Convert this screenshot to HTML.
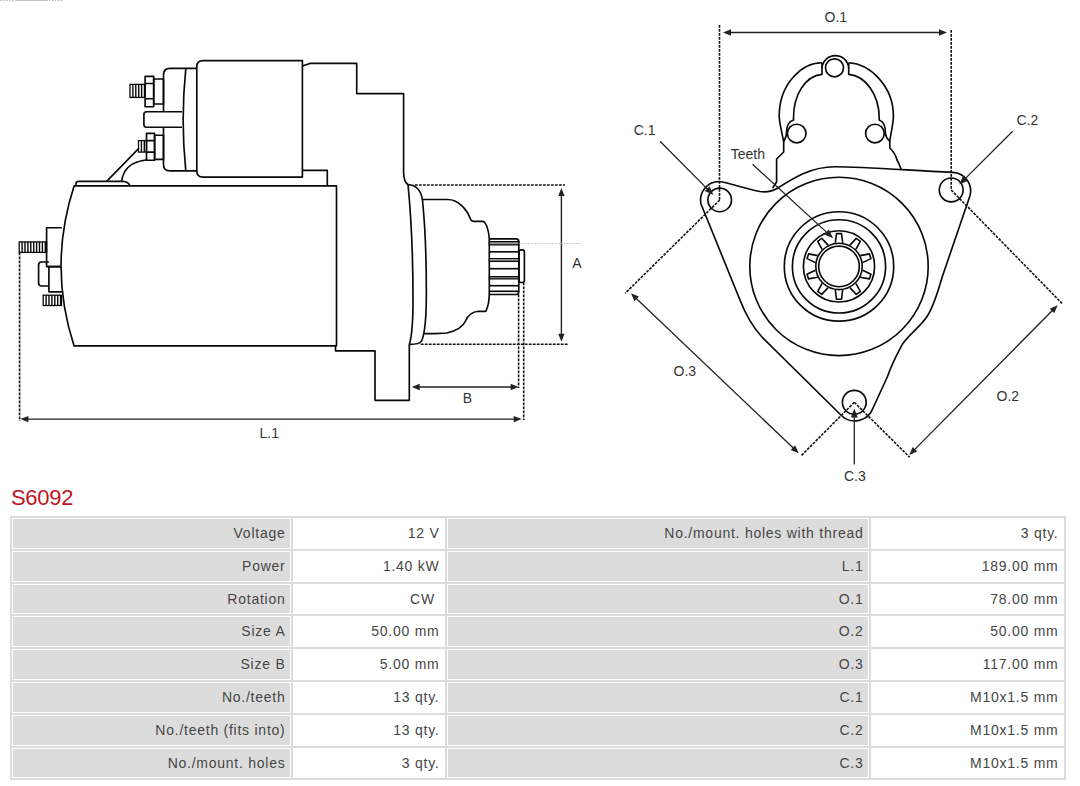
<!DOCTYPE html>
<html><head><meta charset="utf-8"><style>
html,body{margin:0;padding:0;background:#fff;width:1080px;height:786px;overflow:hidden;position:relative}
svg{position:absolute;left:0;top:0}
.lab text{font-family:"Liberation Sans",sans-serif;font-size:14px;fill:#333}
.c{position:absolute;box-sizing:content-box;border:1px solid #fff;font-family:"Liberation Sans",sans-serif;font-size:14px;color:#464646;text-align:right;}
.c span{position:absolute;right:4.5px;top:6px;white-space:nowrap;letter-spacing:0.75px}
.title{position:absolute;left:11px;top:485px;font-family:"Liberation Sans",sans-serif;font-size:22px;color:#c0151f;letter-spacing:-0.3px}
</style></head><body>
<svg width="1080" height="500" viewBox="0 0 1080 500">
<g fill="none" stroke="#080808" stroke-width="1.65" stroke-linejoin="round" stroke-linecap="butt">
<path d="M203 60.6 H302.4 V177.1 H203 Q196.8 177.1 196.8 171 V66.6 Q196.8 60.6 203 60.6 Z"/>
<path d="M196.8 68.4 H170 Q163.5 68.4 163.5 75 V111.7 M163.5 127.2 V164.5 Q163.5 170.9 170 170.9 H196.8"/>
<path d="M185.8 68.6 Q180.5 120 185.8 170.8"/>
<rect x="153.7" y="79" width="9.8" height="25"/>
<rect x="145.1" y="76.4" width="8.6" height="30.3"/>
<path d="M145.1 83.5 H153.7 M145.1 98.7 H153.7"/>
<path d="M182 111.7 H146.5 Q143.9 111.7 143.9 114.5 V124.5 Q143.9 127.2 146.5 127.2 H182"/>
<rect x="154.6" y="135.2" width="8.9" height="24.1"/>
<rect x="146.5" y="133.4" width="8.1" height="26.8"/>
<path d="M146.5 140.6 H154.6 M146.5 152.1 H154.6"/>
<path d="M138.3 148.8 L106.4 181.6"/>
<path d="M147 159.8 Q130 162 124.5 172 Q122 177 121.5 182"/>
<path d="M76 185.8 V183.5 Q76 181.4 79 181.4 H123 Q128 181.6 130 185.8"/>
<path d="M74.1 185.9 H336.5 V345.9 H74.1 Q48 266 74.1 185.9 Z"/>
<path d="M302.4 170.3 H327.3 V186"/>
<path d="M302.4 66 L310.3 63.4 H356.7 V93.6 H403.6 V172 Q403.8 182.5 408 184.5 C411 215 413 260 413 300 C413 322 412 336 409.3 344.5 V400.3 H375 V350.8 H335.5 V345.9"/>
<path d="M408 184.5 C416 185 421 190 422.5 200 C425 225 426.5 270 426.3 300 C426 322 424 336 421.5 341 C420 344 416 344.4 409.5 344.4"/>
<path d="M422.3 199.5 H447.6 C458 199.5 467 209 470.9 220 C471.5 221 472.5 221.3 474 221.3 H482.7 C486 222 488.8 230 489.3 239 V293 C489.3 300 488.5 306 485.8 311.3 H478.5 C472 311.8 468 315 465.5 321 C463 327 455 331 447 333 L435 333.6 H424"/>
<path d="M489.3 238.9 H516 Q518.8 238.9 518.8 241.7 V291.7 Q518.8 294.5 516 294.5 H489.3"/>
<rect x="489.3" y="241.6" width="29.5" height="3.3000000000000114" fill="#999" stroke="#080808" stroke-width="1.2"/>
<rect x="489.3" y="258.5" width="29.5" height="2.8000000000000114" fill="#999" stroke="#080808" stroke-width="1.2"/>
<rect x="489.3" y="276.6" width="29.5" height="2.2999999999999545" fill="#999" stroke="#080808" stroke-width="1.2"/>
<path d="M489.3 251.8 H518.8"/>
<path d="M489.3 268.7 H518.8"/>
<path d="M489.3 285.7 H518.8"/>
<path d="M489.3 291.3 H518.8"/>
<rect x="519" y="249.8" width="5.4" height="32.7" rx="2"/>
</g>
<rect x="130" y="84.4" width="15.099999999999994" height="13.0" fill="none" stroke="#080808" stroke-width="1.3"/><path d="M132.90 84.4 V97.4 M135.80 84.4 V97.4 M138.70 84.4 V97.4 M141.60 84.4 V97.4 M144.50 84.4 V97.4 " stroke="#080808" stroke-width="1.4"/>
<rect x="138.5" y="140.6" width="8.0" height="11.5" fill="none" stroke="#080808" stroke-width="1.3"/><path d="M141.40 140.6 V152.1 M144.30 140.6 V152.1 " stroke="#080808" stroke-width="1.4"/>
<rect x="19.2" y="241.9" width="27.400000000000002" height="10.5" fill="none" stroke="#080808" stroke-width="1.3"/><path d="M22.10 241.9 V252.4 M25.00 241.9 V252.4 M27.90 241.9 V252.4 M30.80 241.9 V252.4 M33.70 241.9 V252.4 M36.60 241.9 V252.4 M39.50 241.9 V252.4 M42.40 241.9 V252.4 M45.30 241.9 V252.4 " stroke="#080808" stroke-width="1.4"/>
<rect x="43.2" y="295.2" width="18.299999999999997" height="10.300000000000011" fill="none" stroke="#080808" stroke-width="1.3"/><path d="M46.10 295.2 V305.5 M49.00 295.2 V305.5 M51.90 295.2 V305.5 M54.80 295.2 V305.5 M57.70 295.2 V305.5 M60.60 295.2 V305.5 " stroke="#080808" stroke-width="1.4"/>
<g fill="none" stroke="#080808" stroke-width="1.65" stroke-linejoin="round">
<path d="M61.8 227.7 H46.6 V266.6 H61"/>
<path d="M61 266.6 H48.9 V291.8 H62.5"/>
<path d="M48.9 262 H41.5 Q38.6 262 38.6 265 V283 Q38.6 286 41.5 286 H48.9"/>
</g>
<path d="M415 185 L565 185" stroke="#111" stroke-width="1.6" fill="none" stroke-dasharray="2.8 1.2"/>
<path d="M420.8 344.3 L568 344.3" stroke="#111" stroke-width="1.6" fill="none" stroke-dasharray="2.8 1.2"/>
<path d="M561.4 192 L561.4 338" stroke="#222" stroke-width="1.4" fill="none"/>
<path d="M561.40 188.00 L558.20 196.00 L564.60 196.00 Z" fill="#222" stroke="none"/>
<path d="M561.40 341.70 L564.60 333.70 L558.20 333.70 Z" fill="#222" stroke="none"/>
<path d="M519 243.4 H582" stroke="#aaa" stroke-width="0.8" stroke-dasharray="1.5 1.5"/>
<path d="M518.6 294.5 L518.6 388" stroke="#111" stroke-width="1.6" fill="none" stroke-dasharray="2.8 1.2"/>
<path d="M523.7 282.5 L523.7 420" stroke="#111" stroke-width="1.6" fill="none" stroke-dasharray="2.8 1.2"/>
<path d="M416 387 L515 387" stroke="#222" stroke-width="1.4" fill="none"/>
<path d="M411.70 387.00 L419.70 390.20 L419.70 383.80 Z" fill="#222" stroke="none"/>
<path d="M518.60 387.00 L510.60 383.80 L510.60 390.20 Z" fill="#222" stroke="none"/>
<path d="M19.6 252.4 L19.6 421" stroke="#111" stroke-width="1.6" fill="none" stroke-dasharray="2.8 1.2"/>
<path d="M25 419.1 L517 419.1" stroke="#222" stroke-width="1.4" fill="none"/>
<path d="M20.40 419.10 L28.40 422.30 L28.40 415.90 Z" fill="#222" stroke="none"/>
<path d="M521.70 419.10 L513.70 415.90 L513.70 422.30 Z" fill="#222" stroke="none"/>
<g fill="none" stroke="#080808" stroke-width="1.65" stroke-linejoin="round">
<path d="M772.6 188 L776.6 182 V159 L783.7 152 V142 C781 128 779.2 122 779.2 116 C779.2 84 802 62.5 822 62.8"/>
<path d="M848.7 62.8 C870 64 893.4 86 893.4 116 C893.4 124 891 132 889.8 141 V148 C894 152 896 156 897 160 C899 163 900 166 901 169"/>
<path d="M822 62.8 V67.8 A13.4 13.4 0 0 1 848.7 67.8 V62.8"/>
<path d="M822 67 V74.4 C805 76 793.5 95 793.5 118 V120 C790 121 786.4 124 786.4 133.5 C786.4 138 784 140 783.7 142"/>
<path d="M848.7 67 V74.4 C866 76 879.2 95 879.2 118 V120 C882.5 121 885.5 125 885.5 133.5 C885.5 138 889 140 889.8 141"/>
<circle cx="834.5" cy="67.8" r="9"/>
<circle cx="796.7" cy="133.5" r="9.3"/>
<circle cx="874.9" cy="133.5" r="9.3"/>
<path d="M719 181.5 C731 183 745 189 760 191.5 C767 192.5 773 191 777.8 188 C795 177 812 166.7 834.8 166.7 C860 166.7 890 169 952.8 172.4 A18.6 18.6 0 0 1 969.9 196 L942.1 277.3 C937 295 933 307 927.7 315.5 C920 328 906 336 900.7 347.3 C895 358 889 372 887.3 377 L873 408 A19.3 19.3 0 0 1 841.4 415.5 L762 337 C752 326 745 313 740 300 L701 204 A18.6 18.6 0 0 1 719 181.5 Z"/>
<circle cx="719.7" cy="199.9" r="11.8"/>
<circle cx="951.2" cy="189.9" r="11.9"/>
<circle cx="854.3" cy="402.3" r="11.9"/>
<circle cx="839" cy="266.4" r="89.2"/>
<circle cx="839" cy="266.4" r="54.7"/>
<circle cx="839" cy="266.4" r="46.6"/>
<circle cx="839" cy="266.4" r="35.6"/>
</g>
<g fill="none" stroke="#080808" stroke-width="1.6">
<circle cx="839" cy="266.4" r="23.2"/>
<circle cx="839" cy="266.4" r="20.3"/>
<path d="M835.30 242.80 L836.50 233.60 L841.50 233.60 L842.70 242.80" stroke-linejoin="round"/>
<path d="M849.88 245.13 L856.26 238.39 L860.30 241.33 L855.87 249.48" stroke-linejoin="round"/>
<path d="M860.30 255.59 L869.42 253.89 L870.97 258.64 L862.59 262.63" stroke-linejoin="round"/>
<path d="M862.59 270.17 L870.97 274.16 L869.42 278.91 L860.30 277.21" stroke-linejoin="round"/>
<path d="M855.87 283.32 L860.30 291.47 L856.26 294.41 L849.88 287.67" stroke-linejoin="round"/>
<path d="M842.70 290.00 L841.50 299.20 L836.50 299.20 L835.30 290.00" stroke-linejoin="round"/>
<path d="M828.12 287.67 L821.74 294.41 L817.70 291.47 L822.13 283.32" stroke-linejoin="round"/>
<path d="M817.70 277.21 L808.58 278.91 L807.03 274.16 L815.41 270.17" stroke-linejoin="round"/>
<path d="M815.41 262.63 L807.03 258.64 L808.58 253.89 L817.70 255.59" stroke-linejoin="round"/>
<path d="M822.13 249.48 L817.70 241.33 L821.74 238.39 L828.12 245.13" stroke-linejoin="round"/>
</g>
<path d="M719.5 25 L719.5 200" stroke="#111" stroke-width="1.6" fill="none" stroke-dasharray="2.8 1.2"/>
<path d="M951.2 30 L951.2 190" stroke="#111" stroke-width="1.6" fill="none" stroke-dasharray="2.8 1.2"/>
<path d="M727 32.5 L943 32.5" stroke="#222" stroke-width="1.4" fill="none"/>
<path d="M723.00 32.50 L731.00 35.70 L731.00 29.30 Z" fill="#222" stroke="none"/>
<path d="M947.00 32.50 L939.00 29.30 L939.00 35.70 Z" fill="#222" stroke="none"/>
<path d="M719.7 200 L625.2 293.3" stroke="#111" stroke-width="1.6" fill="none" stroke-dasharray="2.8 1.2"/>
<path d="M951.2 190 L1062 303.4" stroke="#111" stroke-width="1.6" fill="none" stroke-dasharray="2.8 1.2"/>
<path d="M854.3 402.3 L800.7 456.2" stroke="#111" stroke-width="1.6" fill="none" stroke-dasharray="2.8 1.2"/>
<path d="M854.3 402.3 L909.7 457.3" stroke="#111" stroke-width="1.6" fill="none" stroke-dasharray="2.8 1.2"/>
<path d="M635.2436577752388 297.4391589884428 L794.3563422247612 449.0608410115572" stroke="#222" stroke-width="1.3" fill="none"/>
<path d="M630.90 293.30 L634.48 301.14 L638.90 296.50 Z" fill="#222" stroke="none"/>
<path d="M798.70 453.20 L795.12 445.36 L790.70 450.00 Z" fill="#222" stroke="none"/>
<path d="M913.5240860897688 450.63888550890476 L1053.375913910231 309.5611144910952" stroke="#222" stroke-width="1.3" fill="none"/>
<path d="M909.30 454.90 L917.20 451.47 L912.66 446.97 Z" fill="#222" stroke="none"/>
<path d="M1057.60 305.30 L1049.70 308.73 L1054.24 313.23 Z" fill="#222" stroke="none"/>
<path d="M660 141.2 L709.2731898969201 190.84158757839242" stroke="#222" stroke-width="1.3" fill="none"/>
<path d="M713.50 195.10 L709.57 186.32 L704.75 191.11 Z" fill="#222" stroke="none"/>
<path d="M1012.7 131.2 L963.4466076229801 180.36132996136197" stroke="#222" stroke-width="1.3" fill="none"/>
<path d="M959.20 184.60 L967.97 180.65 L963.17 175.84 Z" fill="#222" stroke="none"/>
<path d="M854.3 464.4 L854.3 414.4" stroke="#222" stroke-width="1.3" fill="none"/>
<path d="M854.30 408.40 L850.90 417.40 L857.70 417.40 Z" fill="#222" stroke="none"/>
<path d="M752.6 164.3 L828.6800392105351 234.14242108892597" stroke="#222" stroke-width="1.3" fill="none"/>
<path d="M833.10 238.20 L828.77 229.61 L824.17 234.62 Z" fill="#222" stroke="none"/>
<path d="M0 0.5 H15.5" stroke="#bbb" stroke-width="1" stroke-dasharray="1.5 1.5"/>
<path d="M16 0.5 H48" stroke="#c8c4c0" stroke-width="1"/>
<path d="M49 0.5 H64" stroke="#bbb" stroke-width="1" stroke-dasharray="1.5 1.5"/>
<g class="lab"><text x="824.5" y="22.2">O.1</text><text x="633.7" y="134.6">C.1</text><text x="1016.6" y="124.60000000000001">C.2</text><text x="730.8" y="158.7">Teeth</text><text x="673.5" y="375.7">O.3</text><text x="996.6" y="400.5">O.2</text><text x="844.0" y="481.4">C.3</text><text x="572.2" y="267.7">A</text><text x="462.7" y="403.4">B</text><text x="259.5" y="438.0">L.1</text></g>
</svg>
<div class="title">S6092</div>
<div style="position:absolute;left:10px;top:516px;width:1056px;height:264px;background:#dcdcdc"></div><div class="c" style="left:12px;top:518px;width:277px;height:29px;background:#dcdcdc"><span>Voltage</span></div><div class="c" style="left:293px;top:518px;width:150px;height:29px;background:#fff"><span>12 V</span></div><div class="c" style="left:447px;top:518px;width:420px;height:29px;background:#dcdcdc"><span>No./mount. holes with thread</span></div><div class="c" style="left:871px;top:518px;width:191px;height:29px;background:#fff"><span>3 qty.</span></div><div class="c" style="left:12px;top:551px;width:277px;height:29px;background:#dcdcdc"><span>Power</span></div><div class="c" style="left:293px;top:551px;width:150px;height:29px;background:#fff"><span>1.40 kW</span></div><div class="c" style="left:447px;top:551px;width:420px;height:29px;background:#dcdcdc"><span>L.1</span></div><div class="c" style="left:871px;top:551px;width:191px;height:29px;background:#fff"><span>189.00 mm</span></div><div class="c" style="left:12px;top:584px;width:277px;height:28px;background:#dcdcdc"><span>Rotation</span></div><div class="c" style="left:293px;top:584px;width:150px;height:28px;background:#fff"><span>CW&nbsp;</span></div><div class="c" style="left:447px;top:584px;width:420px;height:28px;background:#dcdcdc"><span>O.1</span></div><div class="c" style="left:871px;top:584px;width:191px;height:28px;background:#fff"><span>78.00 mm</span></div><div class="c" style="left:12px;top:616px;width:277px;height:29px;background:#dcdcdc"><span>Size A</span></div><div class="c" style="left:293px;top:616px;width:150px;height:29px;background:#fff"><span>50.00 mm</span></div><div class="c" style="left:447px;top:616px;width:420px;height:29px;background:#dcdcdc"><span>O.2</span></div><div class="c" style="left:871px;top:616px;width:191px;height:29px;background:#fff"><span>50.00 mm</span></div><div class="c" style="left:12px;top:649px;width:277px;height:29px;background:#dcdcdc"><span>Size B</span></div><div class="c" style="left:293px;top:649px;width:150px;height:29px;background:#fff"><span>5.00 mm</span></div><div class="c" style="left:447px;top:649px;width:420px;height:29px;background:#dcdcdc"><span>O.3</span></div><div class="c" style="left:871px;top:649px;width:191px;height:29px;background:#fff"><span>117.00 mm</span></div><div class="c" style="left:12px;top:682px;width:277px;height:29px;background:#dcdcdc"><span>No./teeth</span></div><div class="c" style="left:293px;top:682px;width:150px;height:29px;background:#fff"><span>13 qty.</span></div><div class="c" style="left:447px;top:682px;width:420px;height:29px;background:#dcdcdc"><span>C.1</span></div><div class="c" style="left:871px;top:682px;width:191px;height:29px;background:#fff"><span>M10x1.5 mm</span></div><div class="c" style="left:12px;top:715px;width:277px;height:29px;background:#dcdcdc"><span>No./teeth (fits into)</span></div><div class="c" style="left:293px;top:715px;width:150px;height:29px;background:#fff"><span>13 qty.</span></div><div class="c" style="left:447px;top:715px;width:420px;height:29px;background:#dcdcdc"><span>C.2</span></div><div class="c" style="left:871px;top:715px;width:191px;height:29px;background:#fff"><span>M10x1.5 mm</span></div><div class="c" style="left:12px;top:748px;width:277px;height:28px;background:#dcdcdc"><span>No./mount. holes</span></div><div class="c" style="left:293px;top:748px;width:150px;height:28px;background:#fff"><span>3 qty.</span></div><div class="c" style="left:447px;top:748px;width:420px;height:28px;background:#dcdcdc"><span>C.3</span></div><div class="c" style="left:871px;top:748px;width:191px;height:28px;background:#fff"><span>M10x1.5 mm</span></div>
</body></html>
